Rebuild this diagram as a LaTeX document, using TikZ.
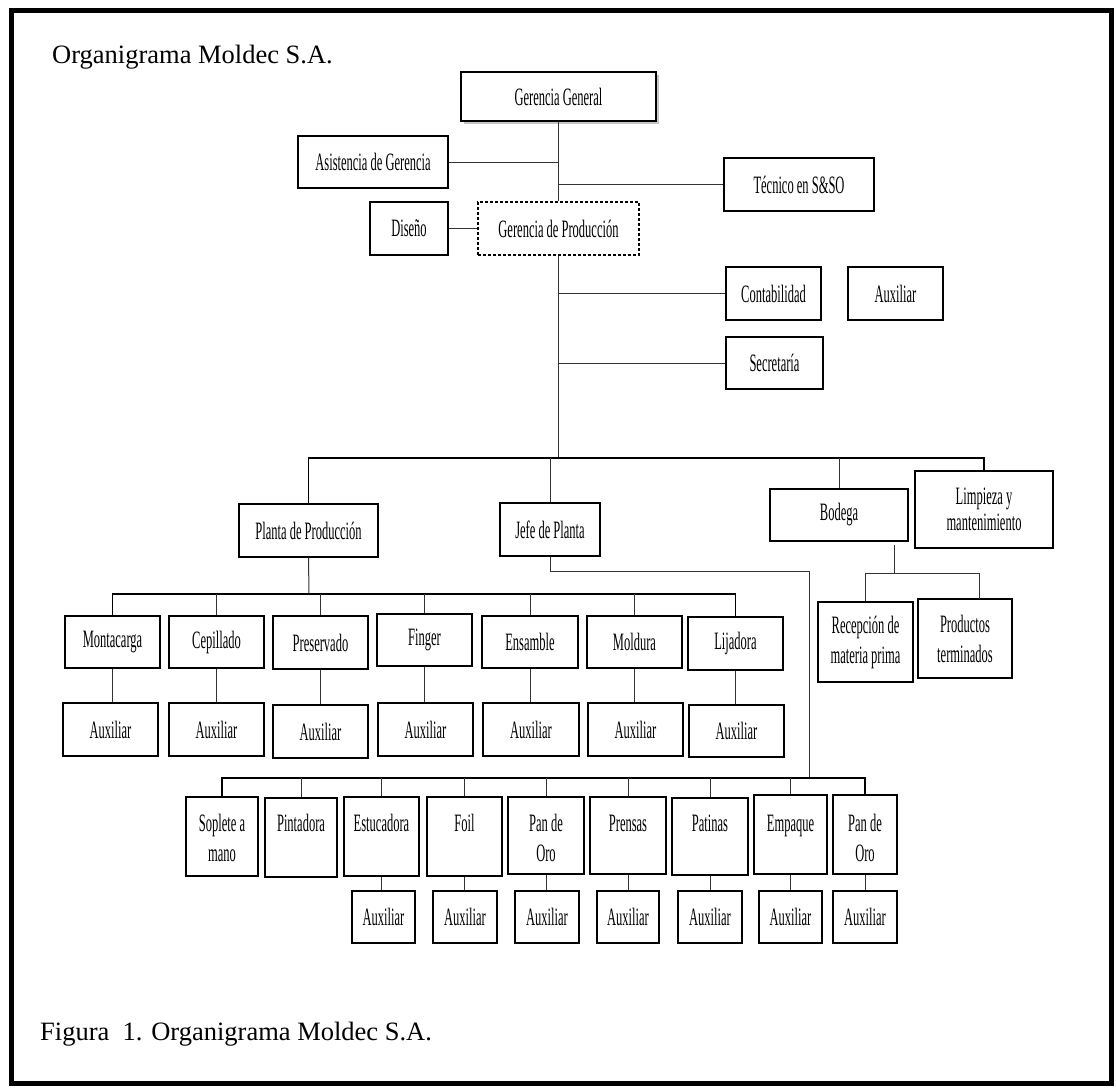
\documentclass[tikz,border=0pt]{standalone}
\usepackage{fontspec}
\setmainfont{Liberation Serif}
\newfontfamily\condfont[FakeStretch=0.5]{Liberation Serif}
\usetikzlibrary{shadows,calc}
\tikzset{
  box/.style={draw=black, line width=1.6pt, fill=white, inner sep=0pt, align=center,
              font=\condfont\fontsize{25}{30}\selectfont},
  conn/.style={draw=black!80, line width=1pt},
  busline/.style={draw=black, line width=1.3pt},
  lbl/.style={inner sep=0pt, anchor=base, font=\condfont\fontsize{25}{30}\selectfont},
  big/.style={inner sep=0pt, anchor=base west, font=\fontsize{26.5}{30}\selectfont},
}
% \bx[opts]{name}{x1}{y1}{x2}{y2}{text}
\newcommand\bx[7][]{\node[box,minimum width={(#5-#3)*1pt},minimum height={(#6-#4)*1pt},#1] (#2) at ({(#3+#5)/2},{(#4+#6)/2}) {#7};}
% \bt{name}{x1}{y1}{x2}{y2}{text} : box with text near the top
\newcommand\bt[6]{\bx{#1}{#2}{#3}{#4}{#5}{}%
  \node[lbl] (#1-t) at ({(#2+#4)/2},831) {\begin{tabular}[t]{@{}c@{}}#6\end{tabular}};}
\begin{document}
\begin{tikzpicture}[x=1pt,y=-1pt]
\useasboundingbox (0,0) rectangle (1116,1088);
\fill[white] (0,0) rectangle (1116,1088);
\draw[line width=5pt] (11,10) rectangle (1111,1083);

\node[big] (title) at (52,63) {Organigrama Moldec S.A.};
\node[big] (caption) at (40,1040) {Figura\ \ 1. Organigrama Moldec S.A.};

% upper part
\bx[drop shadow={shadow xshift=2.5pt,shadow yshift=-3pt,fill=black!45}]{gg}{461}{72}{656}{121}{Gerencia General}
\bx{asis}{298}{136}{448}{188}{Asistencia de Gerencia}
\bx{tec}{724}{158}{874}{211}{Técnico en S\&SO}
\bx{dis}{370}{202}{448}{255}{Diseño}
\bx[dash pattern=on 3pt off 2pt, line width=1.3pt]{gp}{478}{202}{639}{255}{Gerencia de Producción}
\bx{cont}{726}{267}{821}{320}{Contabilidad}
\bx{caux}{848}{267}{943}{320}{Auxiliar}
\bx{sec}{726}{337}{823}{389}{Secretaría}

% second level
\bx[line width=1.3pt]{planta}{239}{504}{378}{557}{Planta de Producción}
\bx[line width=1.3pt]{jefe}{500}{503}{600}{556}{Jefe de Planta}
\bx[line width=1.3pt]{bod}{770}{489}{908}{541}{Bodega}
\bx[line width=1.3pt,font=\condfont\fontsize{25}{26}\selectfont]{limp}{915}{471}{1053}{548}{Limpieza y\\mantenimiento}
\bx{rec}{818}{602}{913}{682}{Recepción de\\materia prima}
\bx{prod}{918}{599}{1012}{678}{Productos\\terminados}

% row 1
\bx{mont}{65}{616}{160}{668}{Montacarga}
\bx{cep}{169}{616}{264}{668}{Cepillado}
\bx{pres}{273}{616}{368}{669}{Preservado}
\bx{fing}{377}{614}{472}{666}{Finger}
\bx{ens}{482}{616}{578}{668}{Ensamble}
\bx{mold}{587}{616}{682}{668}{Moldura}
\bx{lij}{688}{617}{783}{670}{Lijadora}
\bx{ra1}{63}{703}{158}{756}{Auxiliar}
\bx{ra2}{169}{703}{264}{756}{Auxiliar}
\bx{ra3}{273}{705}{368}{758}{Auxiliar}
\bx{ra4}{378}{703}{473}{756}{Auxiliar}
\bx{ra5}{483}{703}{579}{756}{Auxiliar}
\bx{ra6}{588}{703}{683}{756}{Auxiliar}
\bx{ra7}{689}{705}{784}{757}{Auxiliar}

% row 2
\bt{sop}{186}{797}{258}{876}{Soplete a\\mano}
\bt{pin}{265}{798}{337}{877}{Pintadora}
\bt{est}{344}{797}{419}{876}{Estucadora}
\bt{foil}{427}{797}{502}{876}{Foil}
\bt{pan1}{508}{797}{584}{874}{Pan de\\Oro}
\bt{pren}{590}{797}{666}{874}{Prensas}
\bt{pat}{672}{798}{748}{875}{Patinas}
\bt{emp}{754}{795}{827}{874}{Empaque}
\bt{pan2}{833}{795}{897}{874}{Pan de\\Oro}
\bx{rb1}{352}{891}{415}{943}{Auxiliar}
\bx{rb2}{433}{891}{497}{943}{Auxiliar}
\bx{rb3}{515}{891}{579}{943}{Auxiliar}
\bx{rb4}{597}{891}{659}{943}{Auxiliar}
\bx{rb5}{678}{891}{742}{943}{Auxiliar}
\bx{rb6}{759}{891}{822}{943}{Auxiliar}
\bx{rb7}{833}{891}{897}{943}{Auxiliar}

% helper coordinates
\coordinate (busA) at (558.5,458);
\coordinate (busB) at (309,594);
\coordinate (jA) at (809,571);
\coordinate (busC) at (809,778);
\coordinate (bdA) at (894,545);
\coordinate (bdB) at (894,573);
\coordinate (pdT) at (979,599);

% upper connectors
\draw[conn] (gg.south) -- (gp.north);
\draw[conn] (asis.east) -- (asis.east -| gg.south);
\draw[conn] (tec.west) -- (tec.west -| gg.south);
\draw[conn] (dis.east) -- (gp.west);
\draw[conn] (cont.west) -- (cont.west -| gp.south);
\draw[conn] (sec.west) -- (sec.west -| gp.south);
\draw[conn] (gp.south) -- (busA);

% second level bus
\draw[busline] (planta.north) |- (busA) -| (limp.north);
\draw[conn] (jefe.north) -- (jefe.north |- busA);
\draw[conn] (bod.north) -- (bod.north |- busA);

% bodega children
\draw[conn] (bdA) -- (bdB);
\draw[conn] (rec.north) |- (bdB) -| (pdT);

% row 1
\draw[conn] (planta.south) -- (busB);
\draw[busline] (mont.north) |- (busB) -| (lij.north);
\foreach \n in {cep,pres,fing,ens,mold} \draw[conn] (\n.north) -- (\n.north |- busB);
\foreach \u/\v in {mont/ra1,cep/ra2,pres/ra3,fing/ra4,ens/ra5,mold/ra6,lij/ra7}
  \draw[conn] (\u.south) -- (\u.south |- \v.north);

% row 2
\draw[conn] (jefe.south) |- (jA) -- (busC);
\draw[busline] (sop.north) |- (busC) -| (pan2.north);
\foreach \n in {pin,est,foil,pan1,pren,pat,emp} \draw[conn] (\n.north) -- (\n.north |- busC);
\foreach \u/\v in {est/rb1,foil/rb2,pan1/rb3,pren/rb4,pat/rb5,emp/rb6,pan2/rb7}
  \draw[conn] (\u.south) -- (\u.south |- \v.north);
\end{tikzpicture}
\end{document}
